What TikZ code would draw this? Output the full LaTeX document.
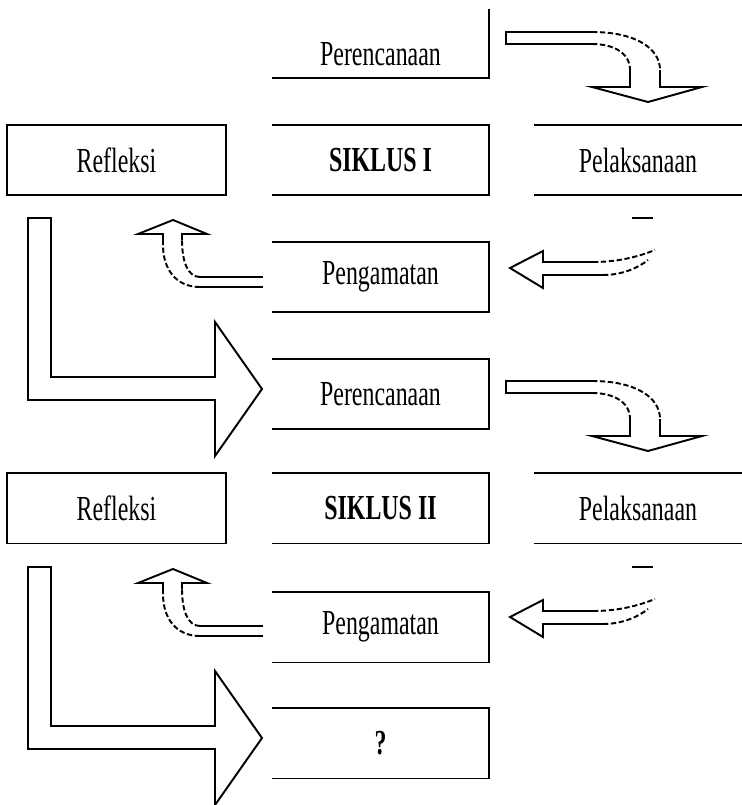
\documentclass[tikz,border=0pt]{standalone}
\usepackage{fontspec}
\newfontfamily\boxfont{Liberation Serif}[FakeStretch=0.68]

\begin{document}
\begin{tikzpicture}[x=0.02cm,y=-0.02cm,line width=1.1pt,
    boxlabel/.style={shape=rectangle,inner sep=0pt,minimum width=4.3cm,minimum height=1.38cm,font=\boxfont\fontsize{20}{24}\selectfont},
    brokenline/.style={dash pattern=on 3pt off 1.5pt}]
    \useasboundingbox (0,0) rectangle (741,805);
    % first cycle
    \node[boxlabel,minimum height=0.92cm] (per1) at (380.5,54) {Perencanaan};
    \node[boxlabel,minimum width=4.34cm] (refl1) at (116.5,160) {Refleksi};
    \node[boxlabel] (sik1) at (380.5,160) {\bfseries SIKLUS I};
    \node[boxlabel,minimum width=4.12cm] (pel1) at (638,160) {Pelaksanaan};
    \node[boxlabel] (pen1) at (380.5,277) {Pengamatan};
    \draw (per1.south west) -- (per1.south east) -- ++(0,-69);
    \draw (refl1.south west) rectangle (refl1.north east);
    \draw (sik1.north west) -- (sik1.north east) -- (sik1.south east) -- (sik1.south west);
    \draw (pel1.north west) -- (pel1.north east);
    \draw (pel1.south west) -- (pel1.south east);
    \draw (pen1.north west) -- (pen1.north east) -- (pen1.south east) -- (pen1.south west);
    % second cycle
    \node[boxlabel] (per2) at (380.5,394) {Perencanaan};
    \node[boxlabel,minimum width=4.34cm] (refl2) at (116.5,508) {Refleksi};
    \node[boxlabel] (sik2) at (380.5,508) {\bfseries SIKLUS II};
    \node[boxlabel,minimum width=4.12cm] (pel2) at (638,508) {Pelaksanaan};
    \node[boxlabel] (pen2) at (380.5,627) {Pengamatan};
    \node[boxlabel] (next) at (380.5,743) {\bfseries ?};
    \draw (per2.north west) -- (per2.north east) -- (per2.south east) -- (per2.south west);
    \draw (refl2.south west) rectangle (refl2.north east);
    \draw (sik2.north west) -- (sik2.north east) -- (sik2.south east) -- (sik2.south west);
    \draw (pel2.north west) -- (pel2.north east);
    \draw (pel2.south west) -- (pel2.south east);
    \draw (pen2.north west) -- (pen2.north east) -- (pen2.south east) -- (pen2.south west);
    \draw (next.north west) -- (next.north east) -- (next.south east) -- (next.south west);
    % perencanaan -> pelaksanaan
    \draw (592,32) -- (506,32) -- (506,44) -- (592,44);
    \draw[brokenline] (592,32) .. controls (635,32) and (660,48) .. (660,70);
    \draw[brokenline] (592,44) .. controls (612,44) and (630,52) .. (630,70);
    \draw (630,70) -- (630,87) -- (592,87) -- (648,102) -- (702,87) -- (660,87) -- (660,70);
    \draw (592,381) -- (506,381) -- (506,393) -- (592,393);
    \draw[brokenline] (592,381) .. controls (635,381) and (660,397) .. (660,419);
    \draw[brokenline] (592,393) .. controls (612,393) and (630,401) .. (630,419);
    \draw (630,419) -- (630,436) -- (592,436) -- (648,451) -- (702,436) -- (660,436) -- (660,419);
    % pelaksanaan -> pengamatan
    \draw (632,218) -- (653,218);
    \draw[brokenline] (593,262) .. controls (615,262) and (635,258) .. (655,250);
    \draw[brokenline] (603,275) .. controls (622,275) and (638,268) .. (648,260);
    \draw (593,262) -- (543,262) -- (543,251) -- (510,268) -- (543,288) -- (543,275) -- (603,275);
    \draw (632,567) -- (653,567);
    \draw[brokenline] (593,611) .. controls (615,611) and (635,607) .. (655,599);
    \draw[brokenline] (603,624) .. controls (622,624) and (638,617) .. (648,609);
    \draw (593,611) -- (543,611) -- (543,600) -- (510,617) -- (543,637) -- (543,624) -- (603,624);
    % pengamatan -> refleksi
    \draw (263,277) -- (200,277);
    \draw (263,287) -- (200,287);
    \draw[brokenline] (200,277) .. controls (188,277) and (182,262) .. (182,240);
    \draw[brokenline] (200,287) .. controls (175,287) and (163,268) .. (163,245);
    \draw (182,240) -- (182,234) -- (207,234) -- (173,220) -- (138,234) -- (163,234) -- (163,245);
    \draw (263,626) -- (200,626);
    \draw (263,636) -- (200,636);
    \draw[brokenline] (200,626) .. controls (188,626) and (182,611) .. (182,589);
    \draw[brokenline] (200,636) .. controls (175,636) and (163,617) .. (163,594);
    \draw (182,589) -- (182,583) -- (207,583) -- (173,569) -- (138,583) -- (163,583) -- (163,594);
    % refleksi -> next cycle
    \draw (51,218) -- (28,218) -- (28,400) -- (215,400) -- (215,456) -- (262,389) -- (215,322) -- (215,377) -- (51,377) -- cycle;
    \draw (51,567) -- (28,567) -- (28,749) -- (215,749) -- (215,805) -- (262,738) -- (215,671) -- (215,726) -- (51,726) -- cycle;
\end{tikzpicture}
\end{document}
